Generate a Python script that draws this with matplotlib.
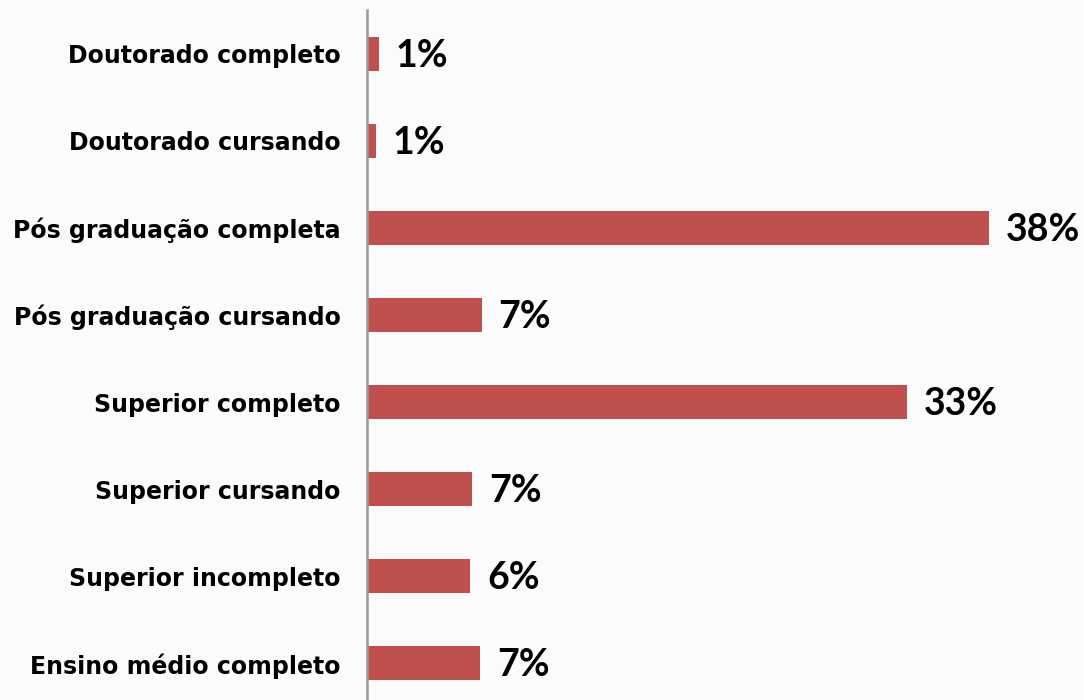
import matplotlib.pyplot as plt

# education level, top to bottom as shown in the chart
categories = ['Doutorado completo', 'Doutorado cursando', 'Pós graduação completa',
              'Pós graduação cursando', 'Superior completo', 'Superior cursando',
              'Superior incompleto', 'Ensino médio completo']
values = [0.73, 0.55, 38.0, 7.0, 33.0, 6.4, 6.3, 6.9]
value_labels = ['1%', '1%', '38%', '7%', '33%', '7%', '6%', '7%']

BAR_COLOR = '#C0504D'

fig = plt.figure(figsize=(10.84, 7.0), dpi=100)
fig.patch.set_facecolor('#fbfbfb')
ax = fig.add_axes([367 / 1084, 0.0, 1 - 367 / 1084, 690 / 700])
ax.set_facecolor('none')

positions = list(range(len(categories)))[::-1]
bars = ax.barh(positions, values, height=0.39, color=BAR_COLOR, edgecolor='none')

for bar, label in zip(bars, value_labels):
    ax.annotate(label, (bar.get_width(), bar.get_y() + bar.get_height() / 2),
                xytext=(17, -2), textcoords='offset pixels',
                va='center', ha='left', fontsize=27, fontweight='bold',
                family='Lato', color='black')

ax.set_yticks(positions)
ax.set_yticklabels(categories, fontsize=17, fontweight='bold', family='DejaVu Sans')
ax.tick_params(axis='y', length=0, pad=19)
ax.set_xticks([])
ax.set_xlim(0, (1084 - 367) / 16.37)
ax.set_ylim(-0.42, 7.5)

for side in ['top', 'right', 'bottom']:
    ax.spines[side].set_visible(False)
ax.spines['left'].set_color('#999999')
ax.spines['left'].set_linewidth(1.8)

fig.savefig('out.png', dpi=100, facecolor=fig.get_facecolor())
